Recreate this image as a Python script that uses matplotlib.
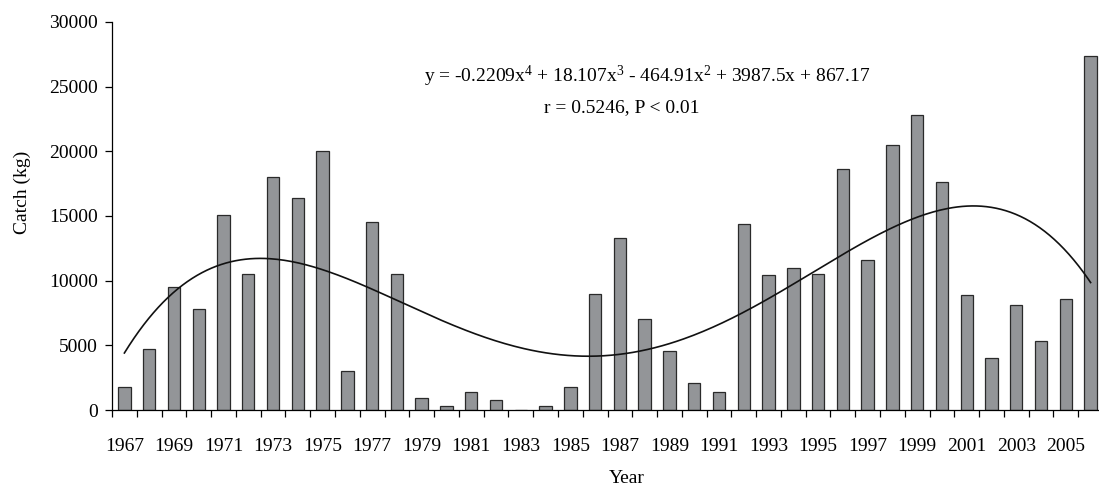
import matplotlib
matplotlib.use("Agg")
import matplotlib.pyplot as plt
import numpy as np

years = np.arange(1967, 2007)
catch_kg = [1800, 4700, 9500, 7800, 15100, 10500, 18000, 16400, 20000, 3000,
            14500, 10500, 900, 300, 1400, 750, 0, 300, 1800, 9000,
            13300, 7000, 4600, 2100, 1400, 14400, 10400, 11000, 10550, 18650,
            11600, 20500, 22800, 17600, 8900, 4000, 8100, 5350, 8600, 27400]

# trend coefficients as printed on the chart (x = 1 for 1967)
trend_coef = [-0.2209, 18.107, -464.91, 3987.5, 867.17]
eq_text = r"y = -0.2209x$^{4}$ + 18.107x$^{3}$ - 464.91x$^{2}$ + 3987.5x + 867.17"
stat_text = "r = 0.5246, P < 0.01"

plt.rcParams["font.family"] = ["Liberation Serif", "DejaVu Serif"]
plt.rcParams["mathtext.fontset"] = "custom"
plt.rcParams["mathtext.rm"] = "Liberation Serif"
plt.rcParams["mathtext.it"] = "Liberation Serif"

fig = plt.figure(figsize=(10.99, 4.86), dpi=100)
ax = fig.add_axes([112 / 1099, 1 - 410 / 486, 991 / 1099, 388 / 486])

ax.bar(years, catch_kg, width=0.5, color="#939598", edgecolor="#2a2a2a", linewidth=0.9, zorder=2)

xs = np.linspace(1, len(years), 400)
ax.plot(xs + years[0] - 1, np.polyval(trend_coef, xs), color="#111111", lw=1.2, zorder=3)

ax.set_xlim(years[0] - 0.5, years[-1] + 0.5)
ax.set_ylim(0, 30000)
ax.set_yticks(np.arange(0, 30001, 5000))
ax.set_xticks(years[::2])
ax.set_xticks(np.arange(years[0] - 0.5, years[-1] + 1), minor=True)
ax.tick_params(axis="x", which="major", length=0, pad=20, labelsize=14)
ax.tick_params(axis="x", which="minor", length=5, width=0.9, direction="out")
ax.tick_params(axis="y", length=5, width=0.9, pad=5, labelsize=14)

for side in ["top", "right"]:
    ax.spines[side].set_visible(False)
for side in ["left", "bottom"]:
    ax.spines[side].set_linewidth(0.9)

ax.set_ylabel("Catch (kg)", fontsize=14)
ax.yaxis.set_label_coords(-0.082, 0.56)
fig.text(627 / 1099, 1 - 478 / 486, "Year", fontsize=14, ha="center", va="center")

fig.text(647 / 1099, 1 - 76 / 486, eq_text, fontsize=14, ha="center", va="center")
fig.text(622 / 1099, 1 - 108 / 486, stat_text, fontsize=14, ha="center", va="center")

fig.savefig("out.png", dpi=100)
